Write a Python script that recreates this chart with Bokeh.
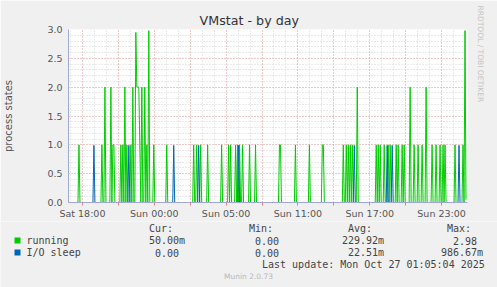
from bokeh.plotting import figure
from bokeh.models import Range1d, FixedTicker, Grid, Label, ColumnDataSource, Title
from bokeh.layouts import column
from bokeh.embed import file_html
from bokeh.resources import INLINE

# ---- data (5-minute slots from Sat 16:50, value in process states) ----
title = "VMstat - by day"
y_label = "process states"
n_slots = 399
running_slot = [10, 33, 36, 42, 44, 45, 52, 54, 56, 58, 62, 64, 67, 68, 69, 70, 71, 73, 76, 78,
                80, 85, 98, 125, 128, 132, 139, 153, 160, 162, 167, 169, 171, 174, 181, 187,
                211, 212, 227, 241, 254, 255, 275, 278, 280, 282, 284, 289, 308, 310, 312, 316,
                320, 322, 328, 330, 334, 336, 342, 346, 350, 354, 358, 364, 368, 372, 375, 377,
                387, 395, 397, 398]
running_value = [1, 1, 2, 2, 1, 1, 1, 1, 2, 1, 1, 2, 2.95, 2, 2, 2, 1, 2, 2, 1,
                 2.98, 1, 1, 1, 1, 1, 1, 1, 1, 1, 1, 1, 1, 1, 1, 1,
                 1, 1, 1, 1, 1, 1, 1, 1, 1, 1, 1, 2, 1, 1, 1, 1,
                 1, 1, 1, 1, 1, 1, 2, 1, 1, 1, 2, 1, 1, 1, 1, 1,
                 1, 1, 2.98, 0.05]
iosleep_slot = [25, 60, 105, 130, 170, 286, 319, 324, 391]
iosleep_value = [0.99, 0.99, 0.99, 0.99, 0.99, 0.99, 0.99, 0.99, 0.99]

tick_hours = [18, 21, 24, 27, 30, 33, 36, 39, 42, 45, 48]
tick_labels = ["Sat 18:00", "", "Sun 00:00", "", "Sun 05:00", "", "Sun 11:00", "", "Sun 17:00", "", "Sun 23:00"]

legend_names = ["running", "I/O sleep"]
legend_colors = ["#00cc00", "#0066b3"]
stat_headers = ["Cur:", "Min:", "Avg:", "Max:"]
running_stats = ["50.00m", "0.00", "229.92m", "2.98"]
iosleep_stats = ["0.00", "0.00", "22.51m", "986.67m"]
last_update = "Last update: Mon Oct 27 01:05:04 2025"
footer = "Munin 2.0.73"
side_text = "RRDTOOL / TOBI OETIKER"

# ---- build series ----
t0 = 16 + 50 / 60.0
t1 = t0 + 400 / 12.0
running = [0.0] * n_slots
for s, v in zip(running_slot, running_value):
    running[s] = v
iosleep = [0.0] * n_slots
for s, v in zip(iosleep_slot, iosleep_value):
    iosleep[s] = v
times = [t0 + i / 12.0 + 1 / 24.0 for i in range(n_slots)]
src = ColumnDataSource(dict(t=times, running=running, iosleep=iosleep))

W = 497
H1, H2 = 221, 66
FL, FR, FT, FB = 67, 467, 29, 203
BG = "#f0f0f0"
p = figure(width=W, height=H1, output_backend="svg", toolbar_location=None,
           x_range=Range1d(t0, t1), y_range=Range1d(0, 3.0),
           min_border_left=FL, min_border_right=W - FR, min_border_top=FT, min_border_bottom=H1 - FB)
p.frame_align = False
p.border_fill_color = BG
p.background_fill_color = "white"
p.outline_line_color = None
p.xgrid.visible = False
p.ygrid.visible = False

# title
p.title.text = title
p.title.align = "left"
p.title.offset = 131
p.title.standoff = 4
p.title.text_font = "DejaVu Sans"
p.title.text_font_size = "12.7px"
p.title.text_font_style = "normal"
p.title.text_color = "#333333"

side = Title(text=side_text, align="left", offset=-24, standoff=17, vertical_align="bottom",
             text_font="DejaVu Sans", text_font_size="7.5px", text_font_style="normal",
             text_color="#c4c4c4")
p.add_layout(side, "right")

# grids
minor_x = [h for h in range(17, 51)]
major_x = [h for h in range(18, 51, 3)]
minor_y = [round(0.1 * k, 1) for k in range(1, 31)]
major_y = [0.5 * k for k in range(1, 7)]
for dim, ticks, col, dash in [(0, minor_x, "#d4d4d4", "1 2"), (1, minor_y, "#d4d4d4", "1 2"),
                              (0, major_x, "#f0a8a8", "1 2"), (1, major_y, "#f0a8a8", "1 2")]:
    g = Grid(dimension=dim, ticker=FixedTicker(ticks=ticks))
    g.grid_line_color = col
    g.grid_line_dash = dash
    g.grid_line_width = 1
    p.add_layout(g)

axis_col = "#a0a8d8"
xa = p.xaxis[0]
xa.ticker = FixedTicker(ticks=tick_hours)
xa.major_label_overrides = {h: lab for h, lab in zip(tick_hours, tick_labels)}
xa.minor_tick_line_color = None
xa.major_tick_out = 3
xa.major_tick_in = 0
xa.major_tick_line_color = "#e08080"
xa.axis_line_color = axis_col
xa.major_label_text_font = "DejaVu Sans"
xa.major_label_text_font_size = "9.5px"
xa.major_label_text_color = "#555555"
xa.major_label_standoff = 2

ya = p.yaxis[0]
ya.ticker = FixedTicker(ticks=[0, 0.5, 1.0, 1.5, 2.0, 2.5, 3.0])
ya.major_label_overrides = {0: "0.0", 1.0: "1.0", 2.0: "2.0", 3.0: "3.0"}
ya.minor_tick_line_color = None
ya.major_tick_out = 0
ya.major_tick_in = 0
ya.axis_line_color = axis_col
ya.major_label_text_font = "DejaVu Sans"
ya.major_label_text_font_size = "9.5px"
ya.major_label_text_color = "#555555"
ya.major_label_standoff = 6
ya.axis_label = y_label
ya.axis_label_text_font = "DejaVu Sans"
ya.axis_label_text_font_size = "10px"
ya.axis_label_text_font_style = "normal"
ya.axis_label_text_color = "#555555"
ya.axis_label_standoff = 30

p.line("t", "running", source=src, line_color=legend_colors[0], line_width=1)
p.line("t", "iosleep", source=src, line_color=legend_colors[1], line_width=1)

# ---- legend / footer panel (coordinates are pixels of this panel, y downwards) ----
q = figure(width=W, height=H2, output_backend="svg", toolbar_location=None,
           x_range=Range1d(0, W), y_range=Range1d(H2, 0),
           min_border_left=0, min_border_right=0, min_border_top=0, min_border_bottom=0)
q.frame_align = False
q.axis.visible = False
q.grid.visible = False
q.outline_line_color = None
q.background_fill_color = BG
q.border_fill_color = BG

mono = "DejaVu Sans Mono"


def lab(text, px, py, size="10px", color="#444444", font=mono, align="left"):
    q.add_layout(Label(x=px, y=py, text=text, text_font=font, text_font_size=size,
                       text_color=color, text_align=align, text_baseline="middle"))


for txt, px in zip(stat_headers, [148.5, 248.5, 347.5, 446.5]):
    lab(txt, px, 7)
row_y = [19, 31]
q.scatter(x=[17, 17], y=row_y, marker="square", size=6, line_color=None, fill_color=legend_colors)
for name, yy in zip(legend_names, row_y):
    lab(name, 26, yy)
for txt, px in zip(running_stats, [148.5, 254.5, 341.5, 452.5]):
    lab(txt, px, row_y[0])
for txt, px in zip(iosleep_stats, [154.5, 254.5, 347.5, 440.5]):
    lab(txt, px, row_y[1])
lab(last_update, 261.5, 43)
lab(footer, 248, 55, size="7.5px", color="#b8b8b8", font="DejaVu Sans", align="center")

layout = column(p, q, spacing=0)
open("out.html", "w").write(file_html(layout, INLINE))
